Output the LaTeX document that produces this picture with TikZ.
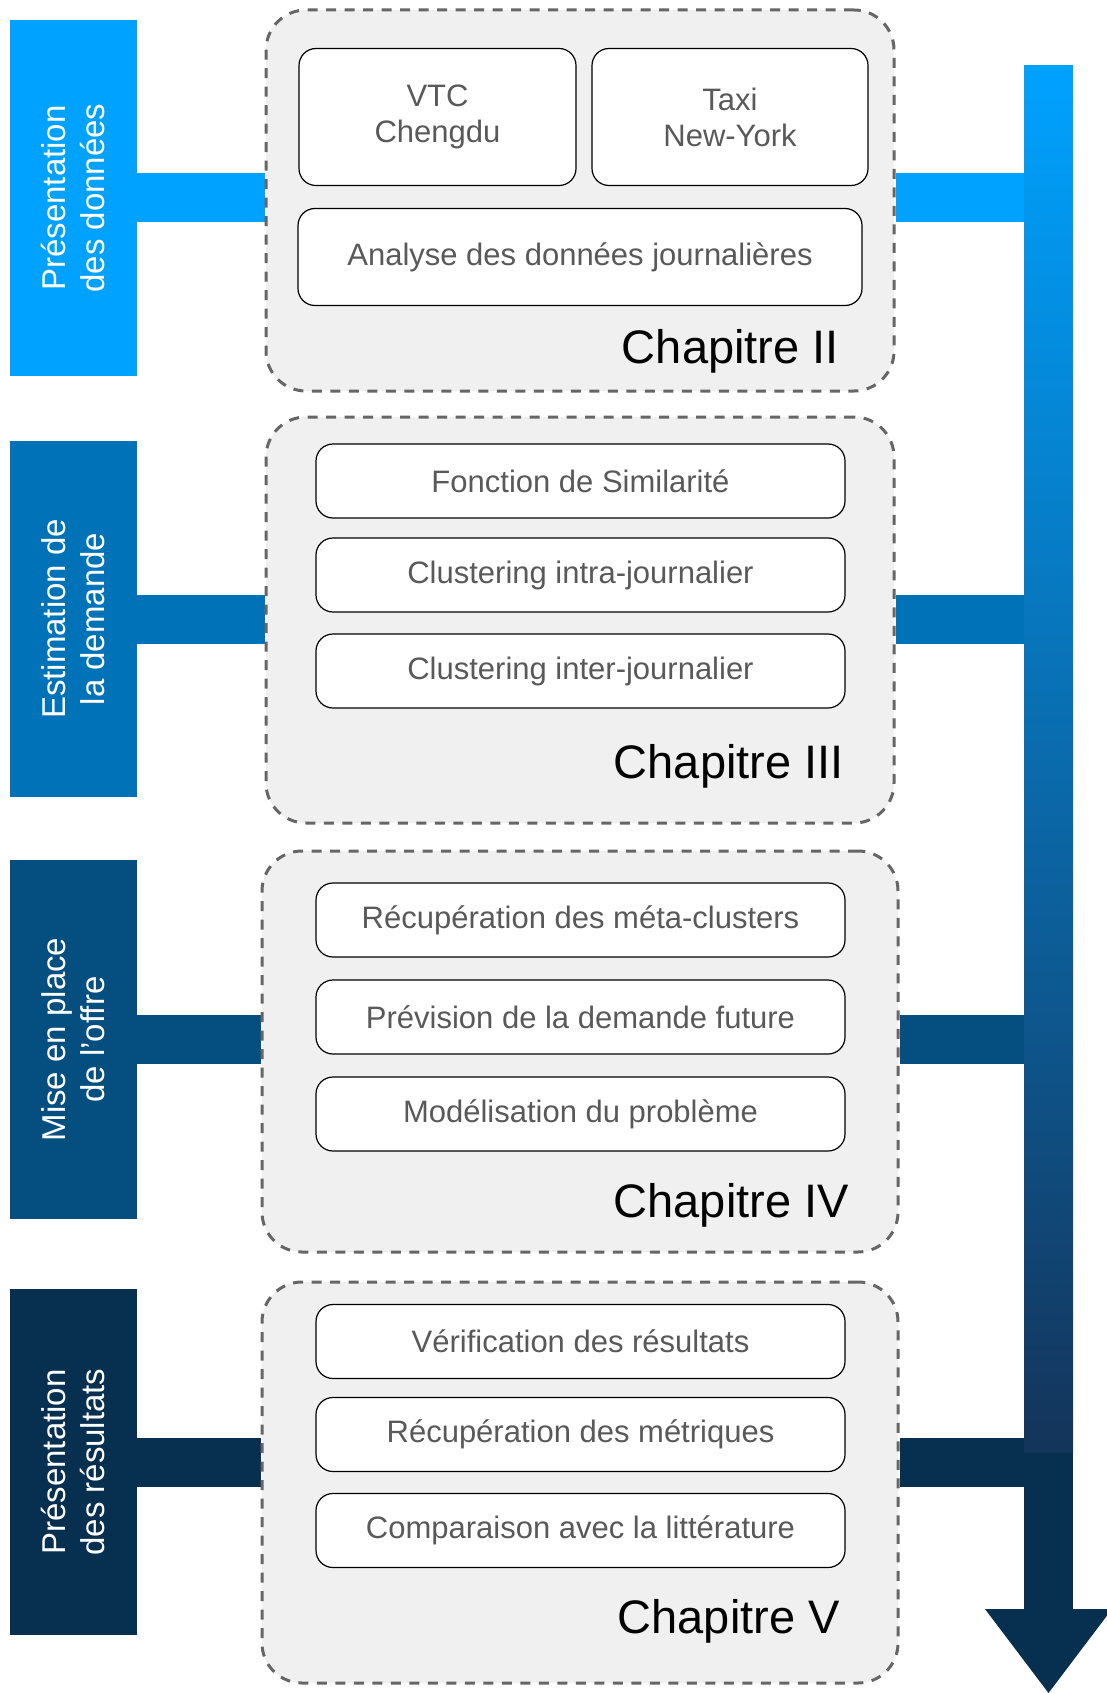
\documentclass[tikz,border=0pt]{standalone}
\usepackage{fontspec}
\setmainfont{Liberation Sans}
\usetikzlibrary{positioning,backgrounds}

\definecolor{bleuA}{HTML}{00A2FF}
\definecolor{bleuB}{HTML}{0073B8}
\definecolor{bleuC}{HTML}{044F80}
\definecolor{bleuD}{HTML}{072F4F}
\definecolor{bleuM}{HTML}{0A6BAD}
\definecolor{bleuF}{HTML}{14345A}
\definecolor{fondchap}{HTML}{F0F0F0}
\definecolor{bordchap}{HTML}{666666}
\definecolor{gristexte}{HTML}{595959}

\begin{document}
\begin{tikzpicture}[x=1pt, y=-1pt,
    partie/.style={rotate=90, minimum width=356pt, minimum height=127pt, inner sep=0pt, outer sep=0pt,
        text=white, align=center, font=\fontsize{33}{39}\selectfont},
    chap/.style={draw=bordchap, fill=fondchap, line width=3pt, dash pattern=on 10pt off 8.5pt,
        rounded corners=40pt, inner sep=0pt},
    etape/.style={draw=black, fill=white, line width=1.2pt, rounded corners=17pt, minimum width=529pt,
        minimum height=74pt, inner sep=0pt, outer sep=0pt, text=gristexte, align=center,
        font=\fontsize{31}{36}\selectfont},
    titre/.style={anchor=base east, inner sep=0pt, font=\fontsize{47}{56}\selectfont},
    lien/.style={line width=49pt}]

    \useasboundingbox (0,0) rectangle (1106,1693);

    % parties (gauche)
    \node[partie, fill=bleuA] (p1) at (73.5,198) {Présentation\\des données};
    \node[partie, fill=bleuB] (p2) at (73.5,619) {Estimation de\\la demande};
    \node[partie, fill=bleuC, minimum width=359pt] (p3) at (73.5,1039.5) {Mise en place\\de l’offre};
    \node[partie, fill=bleuD, minimum width=346pt] (p4) at (73.5,1462) {Présentation\\des résultats};

    % chapitres
    \node[chap, minimum width=628pt, minimum height=381pt] (g1) at (580,200.5) {};
    \node[chap, minimum width=628pt, minimum height=406pt] (g2) at (580,620) {};
    \node[chap, minimum width=636pt, minimum height=401pt] (g3) at (580,1051.5) {};
    \node[chap, minimum width=636pt, minimum height=401pt] (g4) at (580,1482.5) {};

    % chapitre II
    \node[etape, minimum width=277pt, minimum height=137pt] (vtc) at (437.5,117) {VTC\\Chengdu};
    \node[etape, minimum width=276pt, minimum height=137pt] (taxi) at (730,117) {Taxi\\New-York};
    \node[etape, minimum width=564pt, minimum height=97pt] (analyse) at (580,257) {Analyse des données journalières};
    \node[titre] (t2) at (839,363) {Chapitre II};

    % chapitre III
    \node[etape] (simil) at (580.5,481) {Fonction de Similarité};
    \node[etape, below=20pt of simil] (intra) {Clustering intra-journalier};
    \node[etape, below=22pt of intra] (inter) {Clustering inter-journalier};
    \node[titre] (t3) at (844,778) {Chapitre III};

    % chapitre IV
    \node[etape] (meta) at (580.5,920) {Récupération des méta-clusters};
    \node[etape, below=23pt of meta] (prev) {Prévision de la demande future};
    \node[etape, below=23pt of prev] (modele) {Modélisation du problème};
    \node[titre] (t4) at (849,1217) {Chapitre IV};

    % chapitre V
    \node[etape] (verif) at (580.5,1341.5) {Vérification des résultats};
    \node[etape, below=19pt of verif] (metr) {Récupération des métriques};
    \node[etape, below=22pt of metr] (compa) {Comparaison avec la littérature};
    \node[titre] (t5) at (840,1633) {Chapitre V};

    % fleche
    \coordinate (haut) at (1024,66);
    \coordinate (bas) at (1073,1453);
    \coordinate (pied) at (1048.5,1609);
    \shade[top color=bleuA, middle color=bleuM, bottom color=bleuF] (haut) rectangle (bas);
    \fill[bleuD] (1024,1453) rectangle (1073,1609);
    \fill[bleuD] ([xshift=-63.5pt]pied) -- ([xshift=63.5pt]pied) -- ([yshift=-84pt]pied) -- cycle;

    % liens
    \begin{scope}[on background layer]
        \draw[lien, bleuA] (p1.south) -- (p1.south -| g1.west);
        \draw[lien, bleuB] (p2.south) -- (p2.south -| g2.west);
        \draw[lien, bleuC] (p3.south) -- (p3.south -| g3.west);
        \draw[lien, bleuD] (p4.south) -- (p4.south -| g4.west);
        \draw[lien, bleuA] (p1.south -| g1.east) -- (p1.south -| haut);
        \draw[lien, bleuB] (p2.south -| g2.east) -- (p2.south -| haut);
        \draw[lien, bleuC] (p3.south -| g3.east) -- (p3.south -| haut);
        \draw[lien, bleuD] (p4.south -| g4.east) -- (p4.south -| haut);
    \end{scope}
\end{tikzpicture}
\end{document}
